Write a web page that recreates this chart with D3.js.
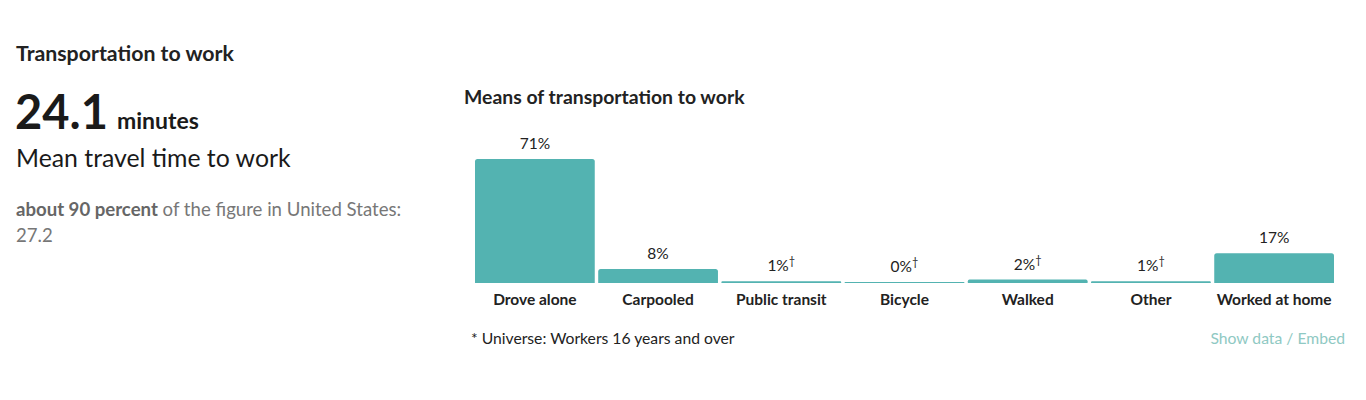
<!DOCTYPE html>
<html>
<head>
<meta charset="utf-8">
<script src="https://cdn.jsdelivr.net/npm/d3@7"></script>
<style>
html,body{margin:0;padding:0;background:#fff;}
svg{display:block;font-family:Lato,"Noto Sans",sans-serif;}
</style>
</head>
<body>
<svg id="chart" width="1366" height="400"></svg>
<script>
const categories = ["Drove alone","Carpooled","Public transit","Bicycle","Walked","Other","Worked at home"];
const values = [71, 8, 1, 0, 2, 1, 17];
const flagged = [false, false, true, true, true, true, false];

const svg = d3.select("#chart");
const teal = "#53b3b1";

// Left panel
svg.append("text").attr("x",16).attr("y",61).attr("font-size",21.3).attr("font-weight",700).attr("fill","#222").text("Transportation to work");
const big = svg.append("text").attr("x",15).attr("y",129).attr("fill","#1a1a1a");
big.append("tspan").attr("font-size",47).attr("font-weight",700).text("24.1");
big.append("tspan").attr("font-size",23).attr("font-weight",700).attr("dx",9).text("minutes");
svg.append("text").attr("x",16).attr("y",167).attr("font-size",24.8).attr("fill","#1a1a1a").text("Mean travel time to work");
const cmp = svg.append("text").attr("x",16).attr("y",216).attr("font-size",18.6).attr("fill","#777");
cmp.append("tspan").attr("font-weight",700).attr("fill","#666").text("about 90 percent");
cmp.append("tspan").text(" of the figure in United States:");
svg.append("text").attr("x",16).attr("y",242).attr("font-size",18.6).attr("fill","#777").text("27.2");

// Chart
svg.append("text").attr("x",464).attr("y",104).attr("font-size",19.4).attr("font-weight",700).attr("fill","#222").text("Means of transportation to work");

const x = d3.scaleBand().domain(categories).range([475, 1334]).paddingInner(0.028);
const y = d3.scaleLinear().domain([0, 71]).range([283, 159]);

const g = svg.append("g");
categories.forEach((c,i)=>{
  const v = values[i];
  const top = Math.min(y(v), y(0)-1);
  const h = y(0)-top;
  const r = Math.min(2.5, h/2);
  const x0 = x(c), w = x.bandwidth();
  g.append("path")
    .attr("d", `M${x0},${y(0)}V${top+r}Q${x0},${top} ${x0+r},${top}H${x0+w-r}Q${x0+w},${top} ${x0+w},${top+r}V${y(0)}Z`)
    .attr("fill", teal);
  const lbl = g.append("text").attr("x", x0+w/2).attr("y", top-10).attr("text-anchor","middle")
    .attr("font-size",15.5).attr("fill","#222");
  lbl.append("tspan").text(v + "%");
  if (flagged[i]) lbl.append("tspan").attr("font-size",11).attr("dy",-6).text("†");
  g.append("text").attr("x", x0+w/2).attr("y", 305).attr("text-anchor","middle")
    .attr("font-size",15.5).attr("font-weight",700).attr("fill","#222").text(c);
});

svg.append("text").attr("x",471).attr("y",344).attr("font-size",15.7).attr("fill","#222").text("* Universe: Workers 16 years and over");
const links = svg.append("text").attr("x",1345).attr("y",344).attr("text-anchor","end").attr("font-size",15.7).attr("fill","#8fc9c3");
links.append("tspan").text("Show data");
links.append("tspan").text(" / ");
links.append("tspan").text("Embed");
</script>
</body>
</html>
